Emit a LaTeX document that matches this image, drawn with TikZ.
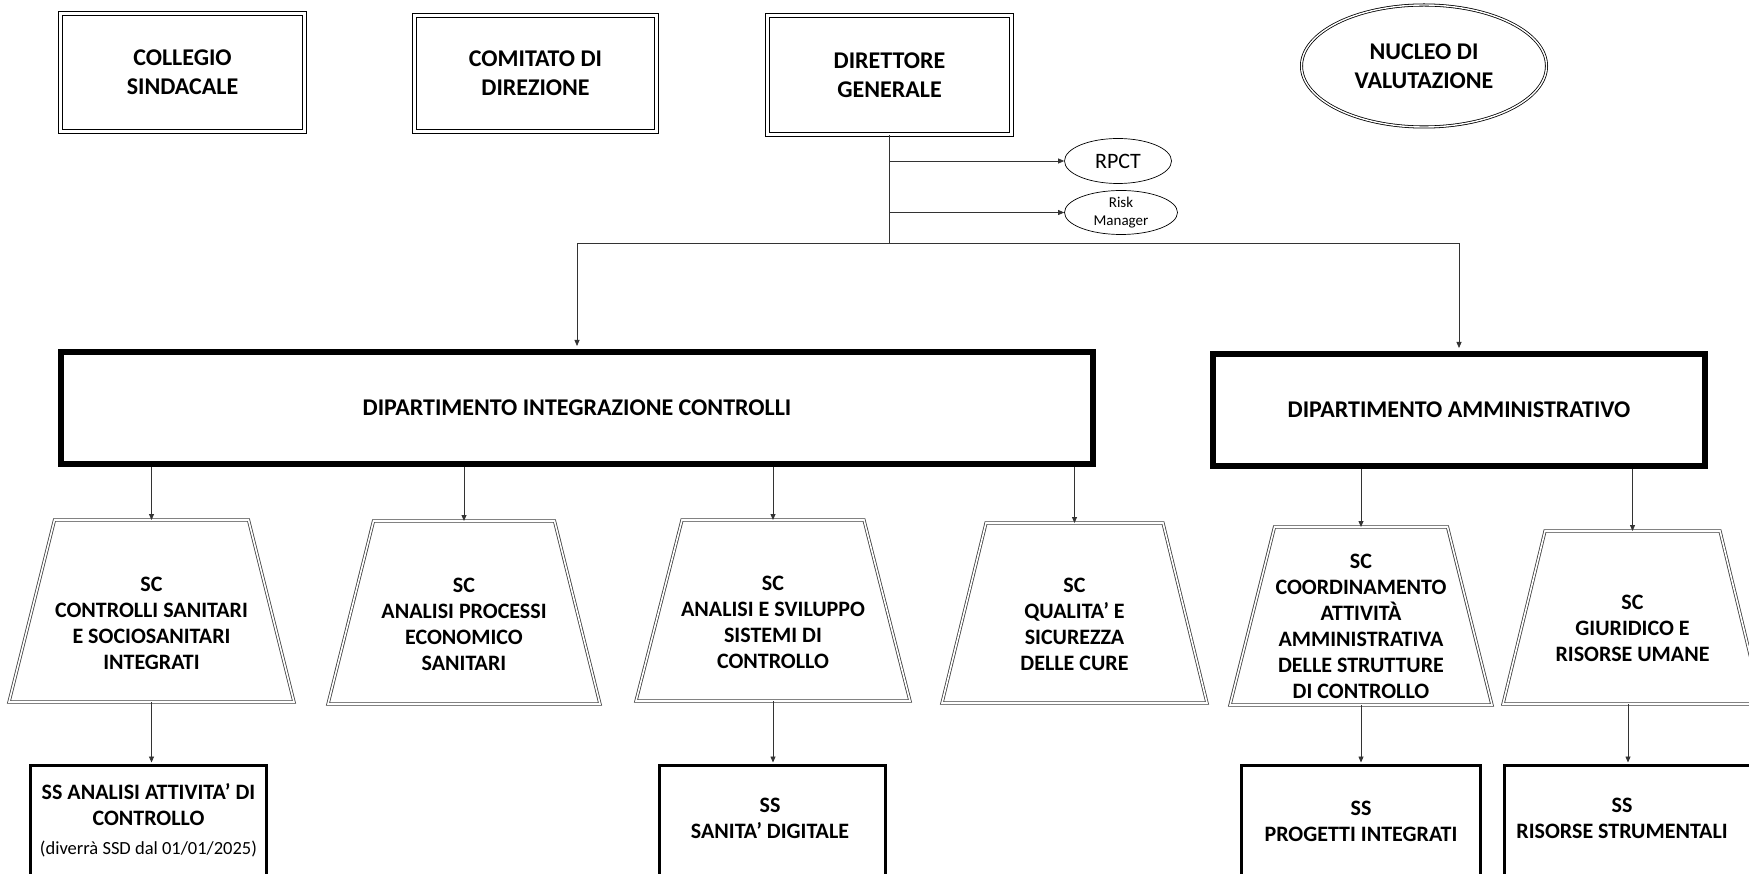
\documentclass[tikz,border=0pt]{standalone}
\usepackage{fontspec}
\setmainfont{Carlito}
\usetikzlibrary{arrows.meta,shapes.geometric}
\newcommand\sctrap[8]{%
  \node[trapbox, minimum width=#4pt, minimum height=#5pt] (#1) at (#2,#3) {};
  \draw[trapline] ([xshift=#6pt]#1.north west) -- ([xshift=-#6pt]#1.north east) -- (#1.south east) -- (#1.south west) -- cycle;
  \node[traptext] (#1t) at (#2,#7) {#8};
}
\begin{document}
\begin{tikzpicture}[x=1pt,y=-1pt,
  topfont/.style={font=\bfseries\fontsize{24}{29}\selectfont},
  scfont/.style={font=\bfseries\fontsize{22}{26}\selectfont},
  dblbox/.style={draw=black, line width=1.1pt, double=white, double distance=2.4pt, inner sep=0pt, align=center, topfont},
  deptbox/.style={draw=black, line width=6pt, inner sep=0pt, align=center, topfont},
  trapbox/.style={inner sep=0pt, outer sep=0pt},
  trapline/.style={draw=black!75, line width=0.8pt, double=white, double distance=1.6pt, line join=miter},
  traptext/.style={align=center, scfont, inner sep=0pt},
  ssbox/.style={draw=black, line width=3pt, inner sep=0pt},
  sstext/.style={align=center, scfont, inner sep=0pt},
  conn/.style={draw=black!80, line width=0.8pt},
  arr/.style={conn, -{Triangle[length=6pt,width=5pt]}},
]
\useasboundingbox (0,0) rectangle (1749,874);
\clip (0,0) rectangle (1749,874);
\fill[white] (0,0) rectangle (1749,874);

% top row
\node[dblbox, minimum width=244pt, minimum height=118pt] (cs) at (182.5,72.5) {COLLEGIO\\SINDACALE};
\node[dblbox, minimum width=242pt, minimum height=116pt] (cd) at (535.5,73.5) {COMITATO DI\\DIREZIONE};
\node[dblbox, minimum width=244pt, minimum height=119pt] (dg) at (889.5,75) {DIRETTORE\\GENERALE};
\node[ellipse, draw=black, line width=0.8pt, double=white, double distance=1.4pt, minimum width=245pt, minimum height=122pt, inner sep=0pt, align=center, topfont] (nv) at (1424,66) {NUCLEO DI\\VALUTAZIONE};

\node[ellipse, draw=black, line width=0.7pt, minimum width=107pt, minimum height=45pt, inner sep=0pt, font=\fontsize{22}{26}\selectfont] (rpct) at (1118,161) {RPCT};
\node[ellipse, draw=black, line width=0.7pt, minimum width=113pt, minimum height=44pt, inner sep=-4pt, align=center, font=\fontsize{15}{18}\selectfont] (rm) at (1121,212.5) {Risk\\Manager};

% departments
\node[deptbox, minimum width=1032pt, minimum height=112pt] (dic) at (577,408) {DIPARTIMENTO INTEGRAZIONE CONTROLLI};
\node[deptbox, minimum width=492pt, minimum height=112pt] (da) at (1459,410) {DIPARTIMENTO AMMINISTRATIVO};

% SC trapezoids
\sctrap{sc1}{151.5}{611}{285}{182}{45.5}{623}{SC\\CONTROLLI SANITARI\\E SOCIOSANITARI\\INTEGRATI}
\sctrap{sc2}{464}{612.5}{272}{183}{45.5}{624}{SC\\ANALISI PROCESSI\\ECONOMICO\\SANITARI}
\sctrap{sc3}{773}{610.5}{274}{181}{46}{622}{SC\\ANALISI E SVILUPPO\\SISTEMI DI\\CONTROLLO}
\sctrap{sc4}{1074.5}{613}{265}{180}{44}{624}{SC\\QUALITA’ E\\SICUREZZA\\DELLE CURE}
\sctrap{sc5}{1361}{616}{262}{178}{44.5}{626.5}{SC\\COORDINAMENTO\\ATTIVITÀ\\AMMINISTRATIVA\\DELLE STRUTTURE\\DI CONTROLLO}
\sctrap{sc6}{1632.5}{617.5}{259}{173}{42}{628}{SC\\GIURIDICO E\\RISORSE UMANE}

% SS boxes
\node[ssbox, minimum width=236pt, minimum height=134.5pt] (ss1) at (148.5,832.75) {};
\node[sstext] (ss1t) at (148.5,820) {SS ANALISI ATTIVITA’ DI\\CONTROLLO\\[3pt]{\mdseries\fontsize{18.5}{22}\selectfont (diverrà SSD dal 01/01/2025)}};
\node[ssbox, minimum width=226pt, minimum height=134.5pt] (ss2) at (772.5,832.75) {};
\node[sstext] (ss2t) at (770,818) {SS\\SANITA’ DIGITALE};
\node[ssbox, minimum width=239pt, minimum height=134.5pt] (ss3) at (1361,832.75) {};
\node[sstext] (ss3t) at (1361,821) {SS\\PROGETTI INTEGRATI};
\node[ssbox, minimum width=247pt, minimum height=134.5pt] (ss4) at (1628,832.75) {};
\node[sstext] (ss4t) at (1622,818) {SS\\RISORSE STRUMENTALI};

% connectors
\coordinate (jn) at (889.5,243);
\draw[conn] (dg.south) -- (jn);
\draw[arr, shorten >=3pt] (jn) -| (dic.north);
\draw[arr, shorten >=3pt] (jn) -| (da.north);
\draw[arr] (dg.south |- rpct.west) -- (rpct.west);
\draw[arr] (dg.south |- rm.west) -- (rm.west);

\draw[arr] (sc1.north |- dic.south) -- (sc1.north);
\draw[arr] (sc2.north |- dic.south) -- (sc2.north);
\draw[arr] (sc3.north |- dic.south) -- (sc3.north);
\draw[arr] (sc4.north |- dic.south) -- (sc4.north);
\draw[arr] (sc5.north |- da.south) -- (sc5.north);
\draw[arr] (sc6.north |- da.south) -- (sc6.north);

\draw[arr, shorten >=1.5pt] (sc1.south) -- (sc1.south |- ss1.north);
\draw[arr, shorten >=1.5pt] (sc3.south) -- (sc3.south |- ss2.north);
\draw[arr, shorten >=1.5pt] (sc5.south) -- (sc5.south |- ss3.north);
\draw[arr, shorten >=1.5pt] (ss4.north |- sc6.south) -- (ss4.north);
\end{tikzpicture}
\end{document}
